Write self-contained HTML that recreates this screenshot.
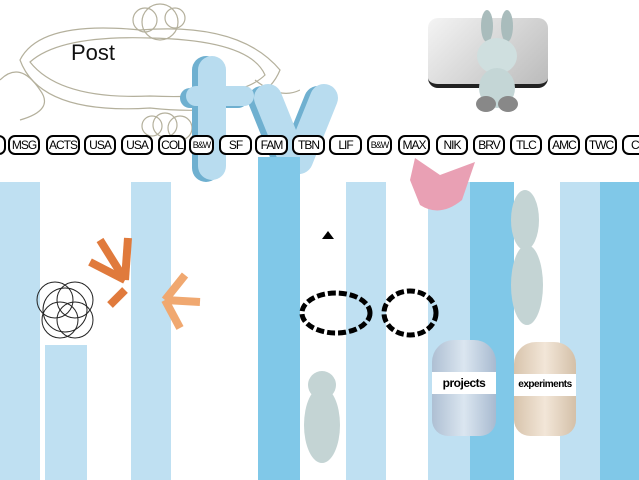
<!DOCTYPE html>
<html><head><meta charset="utf-8"><style>
body{margin:0;width:639px;height:480px;overflow:hidden;background:#fff;position:relative;font-family:"Liberation Sans",sans-serif}
.s{position:absolute;top:182px;bottom:0}
.l{background:#bfe0f2}.d{background:#80c8e8}
.b{position:absolute;top:135px;height:16px;border:2px solid #000;border-radius:7px;font:12px "Liberation Sans Narrow","Liberation Sans",sans-serif;line-height:16px;text-align:center;background:#fff;letter-spacing:-1px;overflow:hidden;white-space:nowrap}
.jar{position:absolute;border-radius:22px 22px 16px 16px}
.lab{position:absolute;left:0;right:0;top:32px;background:#fff;font:bold 12px "Liberation Sans",sans-serif;text-align:center;line-height:22px;letter-spacing:-0.5px}
</style></head><body>
<svg style="position:absolute;left:0;top:0" width="300" height="150">
<g fill="none" stroke="#b4b09c" stroke-width="1.2">
<path d="M20 60 Q40 20 140 30 Q240 22 280 70 Q260 120 150 108 Q40 115 20 60Z"/>
<path d="M30 62 Q60 35 150 38 Q250 40 265 75 Q240 100 150 96 Q60 100 30 62Z"/>
<circle cx="160" cy="22" r="18"/><circle cx="145" cy="20" r="12"/><circle cx="175" cy="18" r="10"/>
<circle cx="165" cy="125" r="12"/><circle cx="180" cy="128" r="12"/><circle cx="152" cy="126" r="10"/>
<path d="M0 80 Q20 60 40 90 Q55 110 20 120"/><path d="M255 80 Q280 100 300 90"/>
</g></svg>
<div style="position:absolute;left:71px;top:40px;font-size:22px;color:#111">Post</div>
<svg style="position:absolute;left:0;top:0" width="360" height="200">
<g stroke="#6fb0d0" stroke-linecap="round"><line x1="206" y1="70" x2="206" y2="168" stroke-width="28"/><line x1="190" y1="98" x2="238" y2="98" stroke-width="20"/>
<line x1="262" y1="100" x2="287" y2="162" stroke-width="28"/><line x1="318" y1="100" x2="293" y2="162" stroke-width="28"/></g>
<g stroke="#b8dcef" stroke-linecap="round"><line x1="212" y1="70" x2="212" y2="166" stroke-width="28"/><line x1="196" y1="96" x2="244" y2="96" stroke-width="20"/>
<line x1="268" y1="98" x2="293" y2="160" stroke-width="28"/><line x1="324" y1="98" x2="299" y2="160" stroke-width="28"/></g>
</svg>
<div style="position:absolute;left:428px;top:18px;width:120px;height:66px;background:linear-gradient(135deg,#f4f4f4,#bbb);border-radius:10px;border-bottom:4px solid #222"></div>
<svg style="position:absolute;left:462px;top:8px" width="70" height="106">
<ellipse cx="25" cy="18" rx="6" ry="16" fill="#a9bcbc"/><ellipse cx="45" cy="18" rx="6" ry="16" fill="#a9bcbc"/>
<ellipse cx="35" cy="48" rx="20" ry="18" fill="#cfdfdf"/><ellipse cx="35" cy="80" rx="18" ry="20" fill="#c4d6d6"/>
<ellipse cx="24" cy="96" rx="10" ry="8" fill="#888"/><ellipse cx="46" cy="96" rx="10" ry="8" fill="#888"/>
</svg>

<div class="s l" style="left:0;width:40px"></div>
<div class="s l" style="left:45px;width:42px;top:345px"></div>
<div class="s l" style="left:131px;width:40px"></div>
<div class="s d" style="left:258px;width:42px;top:157px"></div>
<div class="s l" style="left:346px;width:40px"></div>
<div class="s l" style="left:428px;width:42px"></div>
<div class="s d" style="left:470px;width:44px"></div>
<div class="s l" style="left:560px;width:40px"></div>
<div class="s d" style="left:600px;width:39px"></div>

<svg style="position:absolute;left:0;top:0" width="639" height="480">
<g stroke="#e07a3c" stroke-width="8"><line x1="125" y1="280" x2="100" y2="240"/><line x1="125" y1="280" x2="90" y2="262"/><line x1="125" y1="280" x2="128" y2="238"/><line x1="125" y1="290" x2="110" y2="305"/></g>
<g stroke="#f0a870" stroke-width="8"><line x1="165" y1="300" x2="200" y2="302"/><line x1="165" y1="300" x2="185" y2="275"/><line x1="165" y1="300" x2="180" y2="328"/></g>
<g fill="none" stroke="#222" stroke-width="1"><circle cx="65" cy="310" r="22"/><circle cx="55" cy="300" r="18"/><circle cx="75" cy="300" r="18"/><circle cx="60" cy="320" r="18"/><circle cx="75" cy="320" r="18"/></g>
<g fill="none" stroke="#000" stroke-width="5" stroke-dasharray="8 3"><ellipse cx="336" cy="313" rx="34" ry="20"/><ellipse cx="410" cy="313" rx="26" ry="22"/></g>
<path d="M322 239 L328 231 L334 239Z" fill="#000"/>
<path d="M410 180 L415 158 L440 175 L475 162 L462 200 Q440 218 420 205Z" fill="#e9a0b4"/>
<g fill="#c4d4d4"><ellipse cx="322" cy="425" rx="18" ry="38"/><ellipse cx="322" cy="385" rx="14" ry="14"/>
<ellipse cx="525" cy="220" rx="14" ry="30"/><ellipse cx="527" cy="285" rx="16" ry="40"/></g>
</svg>

<div class="jar" style="left:432px;top:340px;width:64px;height:96px;background:linear-gradient(90deg,#aebfd3,#dbe6f0,#a8bad0)"><div class="lab">projects</div></div>
<div class="jar" style="left:514px;top:342px;width:62px;height:94px;background:linear-gradient(90deg,#d8c4ac,#f2e6d8,#d4c0a8)"><div class="lab" style="font-size:10px">experiments</div></div>

<div>
<div class="b" style="left:-12px;width:14px"></div>
<div class="b" style="left:8px;width:28px">MSG</div>
<div class="b" style="left:46px;width:30px">ACTS</div>
<div class="b" style="left:84px;width:28px">USA</div>
<div class="b" style="left:121px;width:28px">USA</div>
<div class="b" style="left:158px;width:24px">COL</div>
<div class="b" style="left:189px;width:21px;font-size:9px">B&amp;W</div>
<div class="b" style="left:219px;width:29px">SF</div>
<div class="b" style="left:255px;width:29px">FAM</div>
<div class="b" style="left:292px;width:29px">TBN</div>
<div class="b" style="left:329px;width:29px">LIF</div>
<div class="b" style="left:367px;width:21px;font-size:9px">B&amp;W</div>
<div class="b" style="left:398px;width:28px">MAX</div>
<div class="b" style="left:436px;width:28px">NIK</div>
<div class="b" style="left:473px;width:28px">BRV</div>
<div class="b" style="left:510px;width:28px">TLC</div>
<div class="b" style="left:548px;width:28px">AMC</div>
<div class="b" style="left:585px;width:28px">TWC</div>
<div class="b" style="left:622px;width:28px">CT</div>
</div>
</body></html>
